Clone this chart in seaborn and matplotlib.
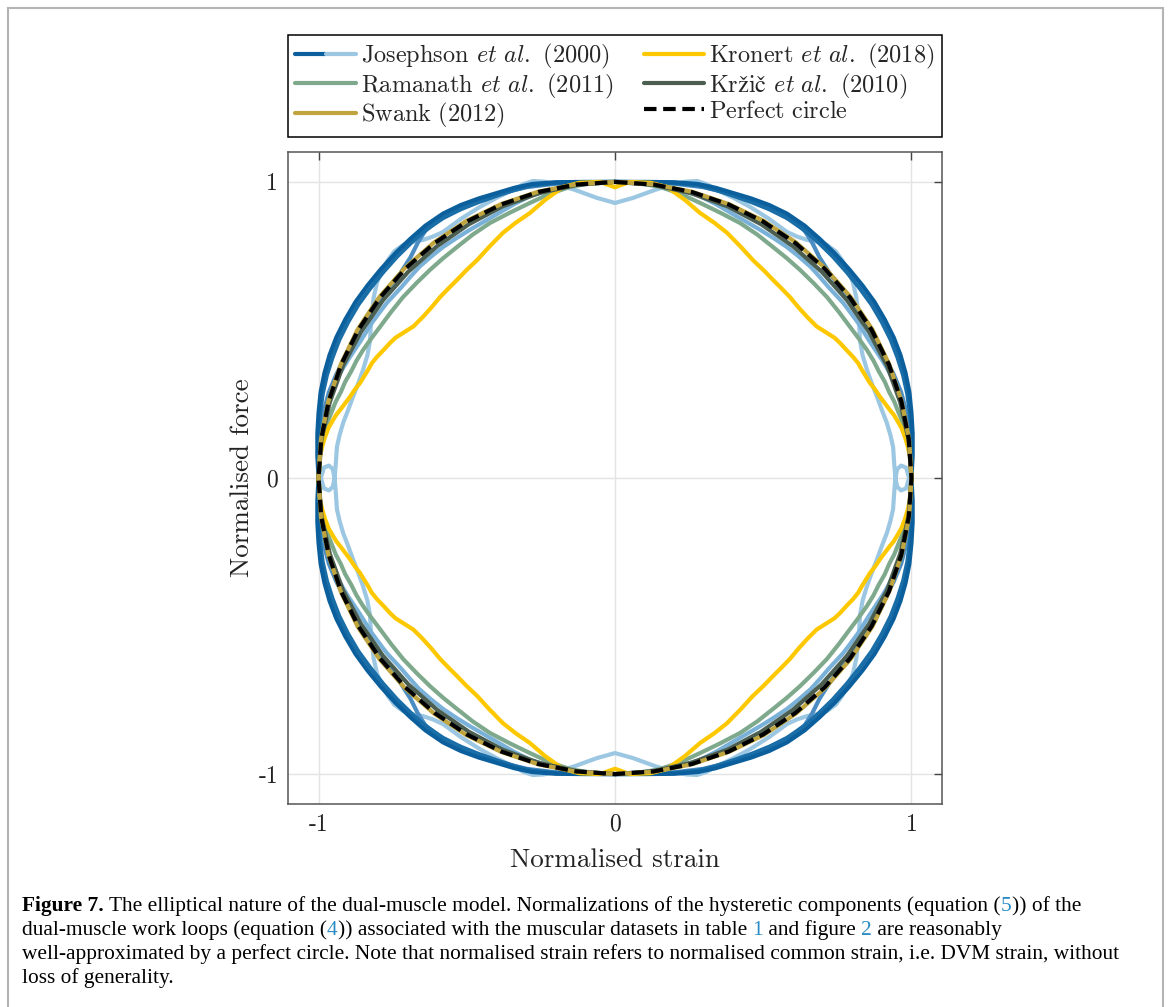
import numpy as np
import pandas as pd
import matplotlib
matplotlib.use('Agg')
import matplotlib.pyplot as plt
from matplotlib.legend_handler import HandlerTuple
from matplotlib.lines import Line2D
from matplotlib.patches import Rectangle
import seaborn as sns

sns.set_style('white')
plt.rcParams['font.family'] = ['cmr10', 'Liberation Serif']
plt.rcParams['mathtext.fontset'] = 'cm'
plt.rcParams['axes.unicode_minus'] = False

# first-quadrant traces (top of loop -> right end)
CIRCLE_X = [0.000, 0.131, 0.259, 0.383, 0.500, 0.609, 0.707, 0.793, 0.866, 0.924, 0.966, 0.991, 1.000]
CIRCLE_Y = [1.000, 0.991, 0.966, 0.924, 0.866, 0.793, 0.707, 0.609, 0.500, 0.383, 0.259, 0.131, 0.000]

SWANK_X = [0.000, 0.131, 0.259, 0.384, 0.502, 0.611, 0.709, 0.795, 0.868, 0.925, 0.967, 0.992, 1.000]
SWANK_Y = [1.000, 0.992, 0.967, 0.925, 0.868, 0.795, 0.709, 0.611, 0.502, 0.384, 0.259, 0.131, 0.000]

KRZIC_X = [0.000, 0.130, 0.256, 0.378, 0.493, 0.600, 0.697, 0.783, 0.857, 0.918, 0.962, 0.990, 1.000]
KRZIC_Y = [1.000, 0.990, 0.962, 0.918, 0.857, 0.783, 0.697, 0.600, 0.493, 0.378, 0.256, 0.130, 0.000]

RAMANATH_X = [0.000, 0.080, 0.152, 0.220, 0.287, 0.355, 0.422, 0.480, 0.533, 0.580, 0.624, 0.670, 0.715,
              0.755, 0.793, 0.823, 0.850, 0.872, 0.890, 0.910, 0.925, 0.942, 0.955, 0.968, 0.978, 0.988,
              0.995, 1.000]
RAMANATH_Y = [1.000, 0.996, 0.983, 0.960, 0.929, 0.896, 0.861, 0.822, 0.780, 0.742, 0.703, 0.658, 0.611,
              0.561, 0.510, 0.470, 0.432, 0.396, 0.360, 0.325, 0.290, 0.258, 0.225, 0.193, 0.162, 0.124,
              0.084, 0.000]

KRONERT_X = [0.000, 0.050, 0.120, 0.175, 0.236, 0.287, 0.335, 0.378, 0.425, 0.465, 0.500, 0.533, 0.560,
             0.590, 0.620, 0.648, 0.680, 0.715, 0.740, 0.759, 0.780, 0.803, 0.820, 0.833, 0.847, 0.860,
             0.878, 0.894, 0.912, 0.927, 0.940, 0.951, 0.966, 0.978, 0.988, 0.995, 1.000]
KRONERT_Y = [0.982, 1.000, 0.997, 0.983, 0.939, 0.895, 0.862, 0.828, 0.780, 0.736, 0.703, 0.669, 0.642,
             0.611, 0.575, 0.544, 0.512, 0.490, 0.474, 0.456, 0.433, 0.409, 0.388, 0.365, 0.342, 0.321,
             0.298, 0.274, 0.250, 0.230, 0.214, 0.196, 0.170, 0.139, 0.105, 0.071, 0.000]

JOS1_X = [0.000, 0.100, 0.200, 0.280, 0.340, 0.400, 0.460, 0.520, 0.580, 0.640, 0.690, 0.740, 0.790, 0.835,
          0.875, 0.910, 0.940, 0.963, 0.980, 0.993, 1.000, 1.004, 1.004, 1.000]
JOS1_Y = [1.000, 1.000, 0.999, 0.993, 0.980, 0.962, 0.944, 0.922, 0.893, 0.852, 0.808, 0.760, 0.705, 0.650,
          0.595, 0.535, 0.475, 0.415, 0.355, 0.290, 0.220, 0.150, 0.075, 0.000]

JOS2_X = [0.000, 0.100, 0.200, 0.280, 0.340, 0.400, 0.460, 0.520, 0.580, 0.635, 0.685, 0.735, 0.782, 0.826,
          0.866, 0.900, 0.930, 0.953, 0.972, 0.986, 0.995, 1.000, 1.001, 1.000]
JOS2_Y = [1.000, 0.999, 0.996, 0.988, 0.973, 0.953, 0.932, 0.908, 0.878, 0.840, 0.797, 0.748, 0.695, 0.640,
          0.585, 0.527, 0.467, 0.407, 0.347, 0.284, 0.216, 0.147, 0.073, 0.000]

JOS3_X = [0.000, 0.100, 0.200, 0.300, 0.380, 0.460, 0.540, 0.600, 0.640, 0.665, 0.690, 0.725, 0.765, 0.805,
          0.845, 0.880, 0.912, 0.940, 0.965, 0.985, 0.996, 1.000]
JOS3_Y = [1.000, 0.999, 0.994, 0.982, 0.962, 0.935, 0.900, 0.868, 0.835, 0.795, 0.745, 0.690, 0.637, 0.585,
          0.525, 0.463, 0.405, 0.350, 0.290, 0.215, 0.110, 0.000]

JOS4_X = [0.000, 0.150, 0.280, 0.340, 0.400, 0.445, 0.490, 0.535, 0.580, 0.620, 0.660, 0.690, 0.720, 0.745,
          0.770, 0.795, 0.820, 0.840, 0.860, 0.880, 0.900, 0.918, 0.935, 0.950, 0.965, 0.980, 0.990, 0.997,
          1.000]
JOS4_Y = [1.000, 0.990, 0.955, 0.925, 0.890, 0.864, 0.838, 0.810, 0.780, 0.748, 0.713, 0.680, 0.645, 0.618,
          0.591, 0.558, 0.524, 0.492, 0.460, 0.430, 0.400, 0.370, 0.340, 0.305, 0.270, 0.215, 0.150, 0.075,
          0.000]

JOS5_X = [0.000, 0.061, 0.135, 0.202, 0.240, 0.277, 0.310, 0.344, 0.400, 0.455, 0.520, 0.580, 0.615, 0.648,
          0.685, 0.715, 0.745, 0.766, 0.788, 0.803, 0.814, 0.820, 0.824, 0.826, 0.835, 0.850, 0.866, 0.884,
          0.900, 0.917, 0.929, 0.938, 0.942, 0.946, 0.952, 0.965, 0.982, 0.992]
JOS5_Y = [0.929, 0.946, 0.973, 0.993, 1.001, 1.003, 0.992, 0.973, 0.946, 0.916, 0.875, 0.831, 0.815, 0.804,
          0.797, 0.787, 0.765, 0.736, 0.698, 0.659, 0.610, 0.557, 0.510, 0.466, 0.415, 0.365, 0.320, 0.274,
          0.230, 0.186, 0.145, 0.105, 0.045, 0.000, 0.030, 0.042, 0.035, 0.000]

JOS_COLORS = ['#9cc7e2', '#79b1d8', '#4b8dc2', '#1a6ea8', '#0a5f9c']
LABELS = [r'Josephson $\mathit{et\ al.}$ (2000)', r'Ramanath $\mathit{et\ al.}$ (2011)',
          r'$\mathrm{Swank\ (2012)}$', r'Kronert $\mathit{et\ al.}$ (2018)',
          r'$\mathrm{Kržič}$ $\mathit{et\ al.}$ (2010)', r'$\mathrm{Perfect\ circle}$']


def full_loop(qx, qy):
    # mirror the first-quadrant trace into a closed loop
    x, y = np.asarray(qx), np.asarray(qy)
    lx = np.r_[x, x[::-1], -x, -x[::-1]]
    ly = np.r_[y, -y[::-1], -y, y[::-1]]
    return pd.DataFrame({'strain': lx, 'force': ly})


def draw(ax, qx, qy, color, z, **kw):
    sns.lineplot(data=full_loop(qx, qy), x='strain', y='force', sort=False, estimator=None,
                 color=color, lw=3.0, ax=ax, zorder=z, legend=False, **kw)


fig = plt.figure(figsize=(11.71, 10.07), dpi=100)
W, H = 1171, 1007
ax = fig.add_axes([288 / W, 1 - 804 / H, 654 / W, 652 / H])

jos = [(JOS5_X, JOS5_Y), (JOS4_X, JOS4_Y), (JOS3_X, JOS3_Y), (JOS2_X, JOS2_Y), (JOS1_X, JOS1_Y)]
for i, (qx, qy) in enumerate(jos):
    draw(ax, qx, qy, JOS_COLORS[i], 2 + i * 0.1)
draw(ax, RAMANATH_X, RAMANATH_Y, '#7fa98c', 3)
draw(ax, KRONERT_X, KRONERT_Y, '#fdc800', 3.1)
draw(ax, KRZIC_X, KRZIC_Y, '#4b5e50', 3.2)
draw(ax, SWANK_X, SWANK_Y, '#c0a53e', 3.3)
draw(ax, CIRCLE_X, CIRCLE_Y, 'black', 4, linestyle=(0, (3, 1.6)))

ax.set_xlim(-1.103, 1.103)
ax.set_ylim(-1.101, 1.101)
ax.set_xticks([-1, 0, 1])
ax.set_yticks([-1, 0, 1])
ax.set_xticklabels(['-1', '0', '1'])
ax.set_yticklabels(['-1', '0', '1'])
ax.tick_params(direction='in', length=6, width=1, colors='#444444', labelcolor='#222222',
               labelsize=17, top=True, right=True, pad=7)
ax.grid(True, color='#e3e3e3', lw=1)
for sp in ax.spines.values():
    sp.set_color('#555555')
    sp.set_linewidth(1.1)
ax.set_xlabel('Normalised strain', fontsize=19.5, color='#222222', labelpad=9)
ax.set_ylabel('Normalised force', fontsize=19.5, color='#222222', labelpad=3)

# legend
hj = (Line2D([], [], color=JOS_COLORS[-1], lw=3.0), Line2D([], [], color=JOS_COLORS[0], lw=3.0))
handles = [hj,
           Line2D([], [], color='#7fa98c', lw=3.0),
           Line2D([], [], color='#c0a53e', lw=3.0),
           Line2D([], [], color='#fdc800', lw=3.0),
           Line2D([], [], color='#4b5e50', lw=3.0),
           Line2D([], [], color='black', lw=3.0, linestyle=(0, (3, 1.6)))]
leg = fig.legend(handles, LABELS, ncol=2, loc='center', mode='expand',
                 bbox_to_anchor=(288 / W, 1 - 134 / H, 654 / W, 96 / H),
                 handler_map={tuple: HandlerTuple(ndivide=None, pad=0)},
                 fontsize=17.5, handlelength=2.5, handletextpad=0.2, labelspacing=0.0,
                 borderaxespad=0, borderpad=0.3, fancybox=False, framealpha=1, edgecolor='black')
leg.get_frame().set_linewidth(1.1)

# outer frame of the figure panel
fig.patches.append(Rectangle((8 / W, -0.02), (1163 - 8) / W, 0.992 + 0.02, transform=fig.transFigure,
                             fill=False, edgecolor='#b4b4b4', lw=1.5))

# caption with coloured cross references
CAP = 'Liberation Serif'
CS = 15.4
BLUE = '#2a8cc4'
renderer = fig.canvas.get_renderer()


def width(s, weight='normal'):
    t = fig.text(0, 0, s, family=CAP, fontsize=CS, weight=weight)
    w = t.get_window_extent(renderer).width
    t.remove()
    return w


def caption_line(x0, y0, pieces):
    done = ''
    for s, c in pieces:
        done += s
        x = x0 + width(done) - width(s)
        fig.text(x / W, 1 - y0 / H, s, family=CAP, fontsize=CS, color=c, va='baseline')


bold = 'Figure 7.'
fig.text(22 / W, 1 - 911 / H, bold, family=CAP, fontsize=CS, weight='bold', va='baseline', color='black')
x1 = 22 + width(bold, 'bold') + width('a a') - width('aa')
caption_line(x1, 911, [('The elliptical nature of the dual-muscle model. Normalizations of the hysteretic '
                        'components (equation (', 'black'), ('5', BLUE), (')) of the', 'black')])
caption_line(22, 935, [('dual-muscle work loops (equation (', 'black'), ('4', BLUE),
                       (')) associated with the muscular datasets in table ', 'black'), ('1', BLUE),
                       (' and figure ', 'black'), ('2', BLUE), (' are reasonably', 'black')])
caption_line(22, 959, [('well-approximated by a perfect circle. Note that normalised strain refers to '
                        'normalised common strain, i.e. DVM strain, without', 'black')])
caption_line(22, 983, [('loss of generality.', 'black')])

fig.savefig('out.png', dpi=100)
